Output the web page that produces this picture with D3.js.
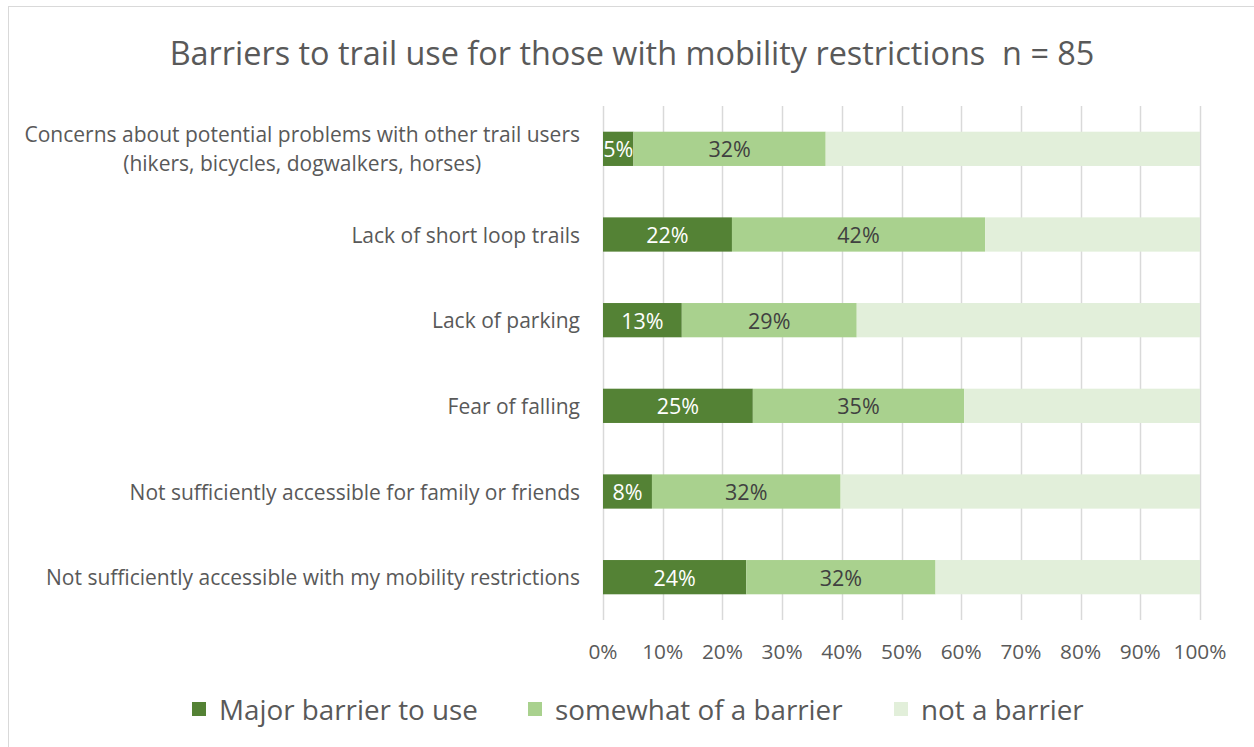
<!DOCTYPE html>
<html>
<head>
<meta charset="utf-8">
<script src="https://cdn.jsdelivr.net/npm/d3@7/dist/d3.min.js"></script>
<style>
  html, body { margin: 0; padding: 0; background: #ffffff; }
  svg { display: block; font-family: "Open Sans", Lato, sans-serif; }
  text { white-space: pre; }
</style>
</head>
<body>
<svg id="chart" width="1254" height="747"></svg>
<script>
// Survey responses, percent of respondents per barrier
const categories = [
  "Concerns about potential problems with other trail users\n(hikers, bicycles, dogwalkers, horses)",
  "Lack of short loop trails",
  "Lack of parking",
  "Fear of falling",
  "Not sufficiently accessible for family or friends",
  "Not sufficiently accessible with my mobility restrictions"
];
const majorBarrier    = [5.1, 21.6, 13.2, 25.1, 8.2, 24.0];
const somewhatBarrier = [32.2, 42.4, 29.3, 35.4, 31.6, 31.7];
const notBarrier      = majorBarrier.map((m, i) => +(100 - m - somewhatBarrier[i]).toFixed(1));
const seriesNames = ["Major barrier to use", "somewhat of a barrier", "not a barrier"];
const xTicks = [0, 10, 20, 30, 40, 50, 60, 70, 80, 90, 100];
const title = "Barriers to trail use for those with mobility restrictions  n = 85";

const colors = ["#548235", "#a9d18e", "#e2efda"];
const labelColors = ["#ffffff", "#404040", null];
const textColor = "#595959";
const gridColor = "#d9d9d9";

const svg = d3.select("#chart");
const W = 1254, H = 747;
const plot = { left: 603, right: 1200, top: 106, bottom: 620 };

// Chart frame
svg.append("rect")
  .attr("x", 8.5).attr("y", 6.5)
  .attr("width", W + 10).attr("height", H + 10)
  .attr("fill", "#ffffff").attr("stroke", gridColor).attr("stroke-width", 1);

// Title
svg.append("text")
  .attr("x", 632).attr("y", 52)
  .attr("text-anchor", "middle").attr("dominant-baseline", "central")
  .attr("fill", textColor).attr("font-size", 32.4)
  .text(title);

const x = d3.scaleLinear().domain([0, 100]).range([plot.left, plot.right]);
const y = d3.scaleBand().domain(d3.range(categories.length))
  .range([plot.top, plot.bottom]).paddingInner(0.6).paddingOuter(0.3);

// Vertical gridlines
svg.append("g").selectAll("line").data(xTicks).join("line")
  .attr("x1", d => Math.round(x(d)) + 0.5).attr("x2", d => Math.round(x(d)) + 0.5)
  .attr("y1", plot.top).attr("y2", plot.bottom)
  .attr("stroke", gridColor).attr("stroke-width", 1.5);

// Stacked bars
const rows = categories.map((c, i) => ({ i, values: [majorBarrier[i], somewhatBarrier[i], notBarrier[i]] }));
const stack = d3.stack().keys([0, 1, 2]).value((d, k) => d.values[k]);
const layers = stack(rows);

const layerG = svg.append("g").selectAll("g").data(layers).join("g")
  .attr("fill", (d, k) => colors[k]);

layerG.selectAll("rect").data(d => d).join("rect")
  .attr("x", d => x(d[0]))
  .attr("width", d => x(d[1]) - x(d[0]))
  .attr("y", d => y(d.data.i))
  .attr("height", y.bandwidth());

// Value labels on the first two segments
layers.forEach((layer, k) => {
  if (!labelColors[k]) return;
  svg.append("g").selectAll("text").data(layer).join("text")
    .attr("x", d => (x(d[0]) + x(d[1])) / 2)
    .attr("y", d => y(d.data.i) + y.bandwidth() / 2)
    .attr("text-anchor", "middle").attr("dominant-baseline", "central")
    .attr("fill", labelColors[k]).attr("font-size", 21.5)
    .text(d => Math.round(d.data.values[k]) + "%");
});

// Category labels (multi-line centered block, right-aligned to the axis)
const catG = svg.append("g");
categories.forEach((c, i) => {
  const lines = c.split("\n");
  const cy = y(i) + y.bandwidth() / 2;
  const lineH = 29;
  const g = catG.append("g");
  const t = g.append("text").attr("fill", textColor).attr("font-size", 21)
    .attr("text-anchor", "middle");
  lines.forEach((ln, j) => {
    t.append("tspan").attr("x", 0)
      .attr("y", cy + (j - (lines.length - 1) / 2) * lineH)
      .attr("dominant-baseline", "central")
      .text(ln);
  });
  const bw = t.node().getBBox().width;
  g.attr("transform", `translate(${580 - bw / 2},0)`);
});

// X axis tick labels
svg.append("g").selectAll("text").data(xTicks).join("text")
  .attr("x", d => x(d)).attr("y", 651)
  .attr("text-anchor", "middle").attr("dominant-baseline", "central")
  .attr("fill", textColor).attr("font-size", 20.8)
  .text(d => d + "%");

// Legend
const legendX = [192, 528, 894];
const legendG = svg.append("g").selectAll("g").data(seriesNames).join("g")
  .attr("transform", (d, k) => `translate(${legendX[k]},709)`);
legendG.append("rect").attr("x", 0).attr("y", -7).attr("width", 14).attr("height", 14)
  .attr("fill", (d, k) => colors[k]);
legendG.append("text").attr("x", 27).attr("y", 0)
  .attr("dominant-baseline", "central")
  .attr("fill", textColor).attr("font-size", 27.8)
  .text(d => d);
</script>
</body>
</html>
